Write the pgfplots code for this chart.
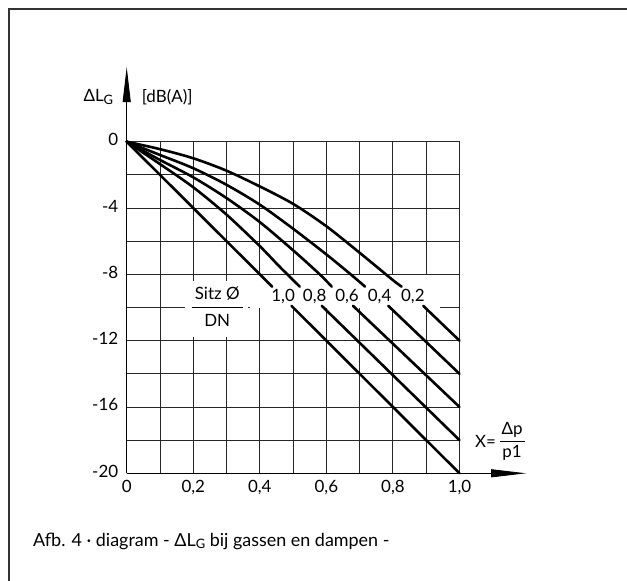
\documentclass[border=0pt]{standalone}
\usepackage{fontspec}
\setmainfont{Lato}
\usepackage{pgfplots}
\pgfplotsset{compat=1.18}
\usetikzlibrary{arrows.meta}
\newcommand{\D}{Δ}
\newcommand{\LG}{\D L\raisebox{-0.3ex}{\fontsize{13}{13}\selectfont G}}
\newcommand{\fs}{\fontsize{17}{19}\selectfont}
\begin{document}
\begin{tikzpicture}[x=1bp,y=1bp]
\useasboundingbox (0,0) rectangle (627bp,581bp);
\draw[line width=1.4bp, black!80] (9bp,0bp) -- (9bp,572bp) -- (627bp,572bp);
\begin{axis}[
  at={(126.7bp,107.7bp)}, anchor=south west,
  scale only axis, width=332.8bp, height=331.6bp,
  xmin=0, xmax=1, ymin=-20, ymax=0,
  axis line style={draw=none},
  clip=false,
  xtick={0,0.2,0.4,0.6,0.8,1},
  xticklabels={0,{0,2},{0,4},{0,6},{0,8},{1,0}},
  minor xtick={0.1,0.3,0.5,0.7,0.9},
  ytick={-20,-16,-12,-8,-4,0},
  yticklabels={-20,-16,-12,-8,-4,0},
  minor ytick={-18,-14,-10,-6,-2},
  grid=both,
  major grid style={black!85, line width=0.9bp},
  minor grid style={black!85, line width=0.9bp},
  tick style={draw=none},
  ticklabel style={font=\fs},
  xticklabel style={yshift=-3bp},
  yticklabel style={xshift=-5bp, yshift=2bp},
]
% white gaps behind labels
\fill[white] (axis cs:0.175,-11.75) rectangle (axis cs:0.365,-8.4);
\fill[white] (axis cs:0.37,-10.05) rectangle (axis cs:0.94,-8.05);

\pgfplotsset{cv/.style={black, line width=2.6bp, line cap=round}}
% Sitz/DN = 0,2
\addplot[cv, smooth] coordinates {(0,0) (0.1,-0.45) (0.2,-1.0) (0.3,-1.75) (0.4,-2.7) (0.5,-3.75) (0.6,-5.1) (0.7,-6.7) (0.8,-8.35) (0.826,-8.74)};
\addplot[cv] coordinates {(0.891,-9.9) (1,-12)};
% 0,4
\addplot[cv, smooth] coordinates {(0,0) (0.1,-0.8) (0.2,-1.6) (0.3,-2.6) (0.4,-3.8) (0.5,-5.25) (0.6,-6.8) (0.676,-8.05) (0.716,-8.74)};
\addplot[cv] coordinates {(0.786,-9.9) (1,-14)};
% 0,6
\addplot[cv, smooth] coordinates {(0,0) (0.1,-1.1) (0.2,-2.15) (0.3,-3.4) (0.4,-4.85) (0.5,-6.55) (0.58,-8.0) (0.616,-8.74)};
\addplot[cv] coordinates {(0.68,-9.9) (1,-16)};
% 0,8
\addplot[cv, smooth] coordinates {(0,0) (0.1,-1.35) (0.2,-2.75) (0.3,-4.4) (0.4,-6.3) (0.46,-7.55) (0.52,-8.74)};
\addplot[cv] coordinates {(0.586,-9.9) (1,-18)};
% 1,0
\addplot[cv] coordinates {(0,0) (0.437,-8.74)};
\addplot[cv] coordinates {(0.495,-9.9) (1,-20)};

% curve labels
\node[font=\fs] at (axis cs:0.47,-9.35) {1,0};
\node[font=\fs] at (axis cs:0.565,-9.35) {0,8};
\node[font=\fs] at (axis cs:0.662,-9.35) {0,6};
\node[font=\fs] at (axis cs:0.76,-9.35) {0,4};
\node[font=\fs] at (axis cs:0.86,-9.35) {0,2};
% Sitz / DN
\node[font=\fs] at (axis cs:0.272,-9.15) {Sitz Ø};
\draw[black, line width=0.9bp] (axis cs:0.195,-10) -- (axis cs:0.35,-10);
\node[font=\fs] at (axis cs:0.272,-10.8) {DN};

% axes with arrows
\draw[black, line width=0.9bp, -{Triangle[length=35bp,width=8bp]}] (axis cs:0,-20) -- (axis cs:0,4.5);
\draw[black, line width=0.9bp, -{Triangle[length=35bp,width=8bp]}] (axis cs:0,-20) -- (axis cs:1.2,-20);

% axis labels
\node[font=\fs, anchor=east] at (axis cs:-0.03,2.7) {\LG};
\node[font=\fs, anchor=west] at (axis cs:0.035,2.7) {[dB(A)]};
\node[font=\fs, anchor=west, inner sep=0pt] at (axis cs:1.046,-18.05) {X=};
\node[font=\fs] at (axis cs:1.158,-17.4) {\D p};
\draw[black, line width=0.9bp] (axis cs:1.121,-18.05) -- (axis cs:1.197,-18.05);
\node[font=\fs] at (axis cs:1.158,-18.75) {p1};
\end{axis}
\node[font=\fontsize{18}{20}\selectfont, anchor=base west, inner sep=0pt] at (33bp,35bp) {Afb. 4 · diagram - \LG{} bij gassen en dampen -};
\end{tikzpicture}
\end{document}
